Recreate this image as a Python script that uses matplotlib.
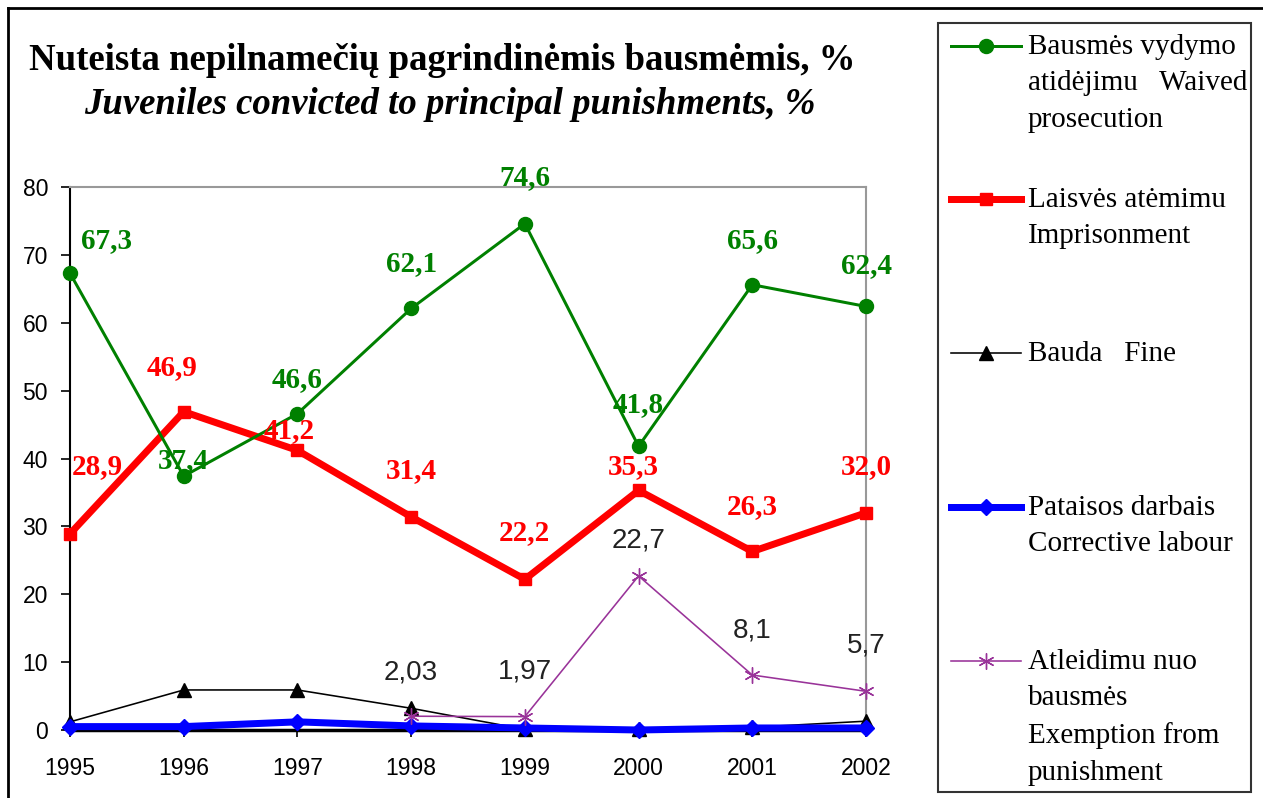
import numpy as np
import matplotlib.pyplot as plt
from matplotlib.lines import Line2D
from matplotlib.patches import Rectangle

years = [1995, 1996, 1997, 1998, 1999, 2000, 2001, 2002]

waived = [67.3, 37.4, 46.6, 62.1, 74.6, 41.8, 65.6, 62.4]
prison = [28.9, 46.9, 41.2, 31.4, 22.2, 35.3, 26.3, 32.0]
fine = [1.2, 5.9, 5.9, 3.2, 0.1, 0.2, 0.4, 1.3]
labour = [0.5, 0.5, 1.2, 0.6, 0.3, 0.0, 0.3, 0.3]
exempt = [np.nan, np.nan, np.nan, 2.03, 1.97, 22.7, 8.1, 5.7]

waived_txt = ['67,3', '37,4', '46,6', '62,1', '74,6', '41,8', '65,6', '62,4']
prison_txt = ['28,9', '46,9', '41,2', '31,4', '22,2', '35,3', '26,3', '32,0']
exempt_txt = ['', '', '', '2,03', '1,97', '22,7', '8,1', '5,7']

legend_txt = ['Bausmės vydymo\natidėjimu   Waived\nprosecution',
              'Laisvės atėmimu\nImprisonment',
              'Bauda   Fine',
              'Pataisos darbais\nCorrective labour',
              'Atleidimu nuo\nbausmės\nExemption from\npunishment']

# label offsets in pixels (dx, dy)
waived_off = [(36, 33), (0, 16), (0, 34), (0, 45), (0, 46), (0, 42), (0, 44), (0, 41)]
prison_off = [(27, 67), (-12, 44), (-8, 20), (0, 46), (0, 47), (-5, 24), (0, 45), (0, 46)]
exempt_off = [(0, 0), (0, 0), (0, 0), (0, 44), (0, 45), (0, 35), (0, 45), (0, 46)]

W, H = 1263, 798
px = 72 / 100  # pixel -> point

sans = 'Liberation Sans'
serif = 'Liberation Serif'

fig = plt.figure(figsize=(W / 100, H / 100), dpi=100)
ax = fig.add_axes([70 / W, 1 - 730 / H, (866 - 70) / W, (730 - 187) / H])

styles = [
    dict(color='#008000', lw=3 * px, marker='o', ms=14 * px, zorder=4),
    dict(color='#ff0000', lw=7 * px, marker='s', ms=12 * px, zorder=3),
    dict(color='black', lw=1.6 * px, marker='^', ms=14 * px, zorder=3),
    dict(color='#0000ff', lw=7 * px, marker='D', ms=12 * px, zorder=5),
    dict(color='#993399', lw=1.6 * px, marker=(6, 2, 0), ms=16 * px, zorder=6),
]
series = [waived, prison, fine, labour, exempt]
for s, st in zip(series, styles):
    ax.plot(years, s, clip_on=False, **st)

for y, v, t, o in zip(years, waived, waived_txt, waived_off):
    ax.annotate(t, (y, v), xytext=(o[0] * px, o[1] * px), textcoords='offset points',
                ha='center', va='center', color='#008000', fontsize=21,
                fontweight='bold', family=serif, zorder=10)
for y, v, t, o in zip(years, prison, prison_txt, prison_off):
    ax.annotate(t, (y, v), xytext=(o[0] * px, o[1] * px), textcoords='offset points',
                ha='center', va='center', color='#ff0000', fontsize=21,
                fontweight='bold', family=serif, zorder=10)
for y, v, t, o in zip(years, exempt, exempt_txt, exempt_off):
    if t:
        ax.annotate(t, (y, v), xytext=(o[0] * px, o[1] * px), textcoords='offset points',
                    ha='center', va='center', color='#222222', fontsize=20,
                    family=sans, zorder=10)

ax.set_xlim(1995, 2002)
ax.set_ylim(0, 80)
ax.set_yticks(range(0, 81, 10))
ax.set_xticks(years)
ax.set_xticklabels([str(y) for y in years], family=sans, fontsize=16.5)
for lab in ax.get_yticklabels():
    lab.set_family(sans)
    lab.set_fontsize(16.5)
ax.tick_params(axis='y', direction='out', length=9 * px, width=1.2, pad=13 * px)
ax.tick_params(axis='x', direction='inout', length=14 * px, width=1.2, pad=20 * px)
for side in ['top', 'right']:
    ax.spines[side].set_color('#999999')
    ax.spines[side].set_linewidth(1.5)
ax.spines['left'].set_linewidth(1.5)
ax.spines['bottom'].set_linewidth(2.5)

# titles
fig.text(442 / W, 1 - 60 / H, 'Nuteista nepilnamečių pagrindinėmis bausmėmis, %',
         ha='center', va='center', fontsize=26.5, fontweight='bold', family=serif)
fig.text(450 / W, 1 - 104 / H, 'Juveniles convicted to principal punishments, %',
         ha='center', va='center', fontsize=26.5, fontweight='bold', style='italic',
         family=serif)

# outer frame (top and left edges visible)
fig.add_artist(Line2D([8 / W, 1], [1 - 8 / H, 1 - 8 / H], color='black', lw=2))
fig.add_artist(Line2D([8 / W, 8 / W], [0, 1 - 8 / H], color='black', lw=2))

# legend box
fig.add_artist(Rectangle((938 / W, 1 - 792 / H), (1251 - 938) / W, (792 - 23) / H,
                         transform=fig.transFigure, fill=False, edgecolor='#333333', lw=1.5))
entry_y = [46, 199, 353, 507, 661]
for st, txt, ey in zip(styles, legend_txt, entry_y):
    st2 = dict(st)
    st2.pop('zorder')
    fig.add_artist(Line2D([951 / W, 1021 / W], [1 - ey / H, 1 - ey / H],
                          markevery=[], **st2))
    fig.add_artist(Line2D([986 / W], [1 - ey / H], **st2))
    fig.text(1028 / W, 1 - (ey - 12) / H, txt, ha='left', va='top', fontsize=21,
             family=serif, linespacing=1.52)

fig.savefig('out.png', dpi=100)
